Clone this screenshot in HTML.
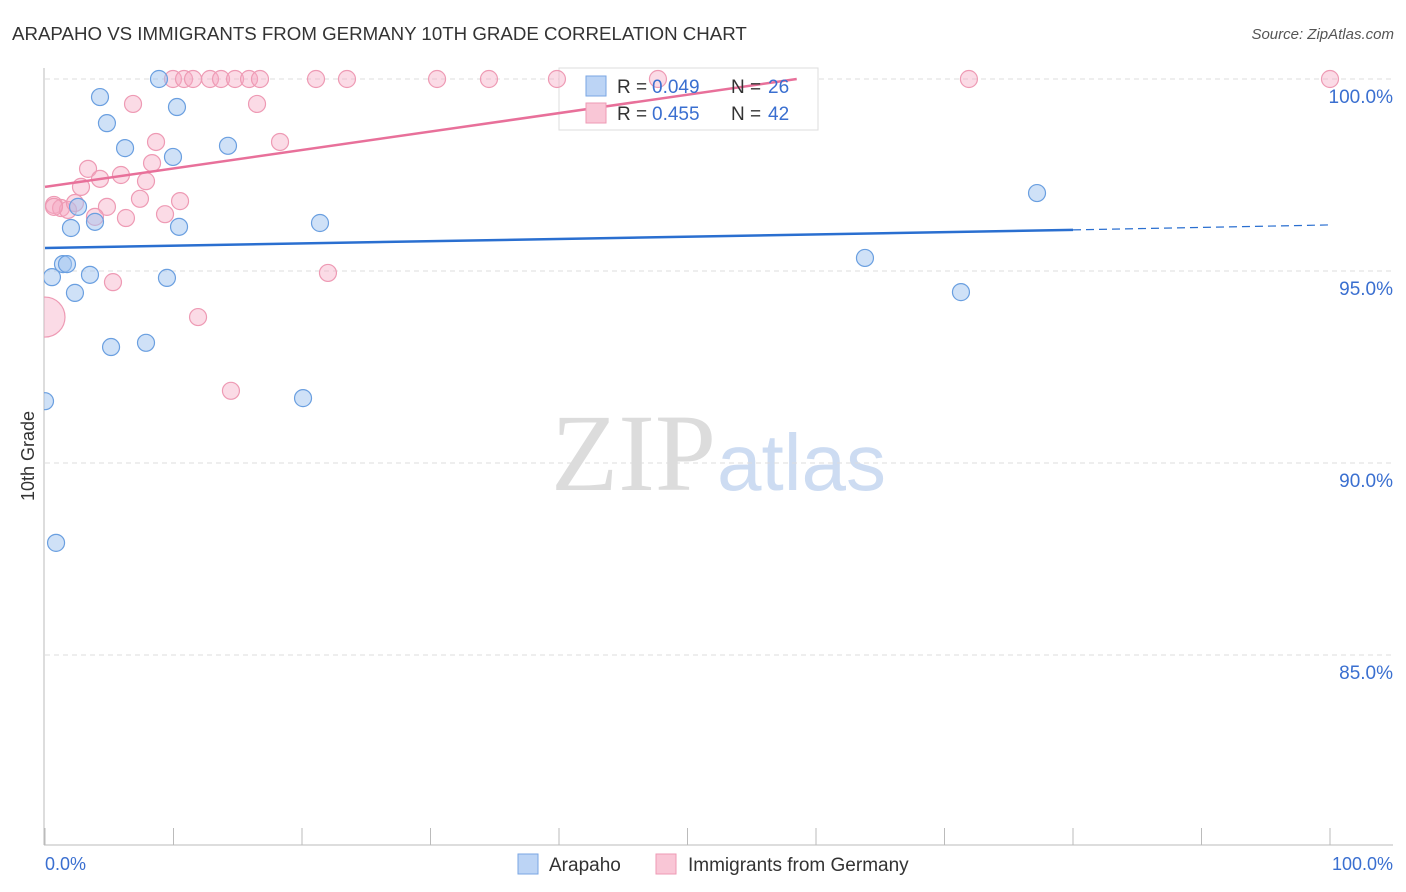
<!DOCTYPE html>
<html><head><meta charset="utf-8"><style>
body{margin:0;background:#fff;font-family:"Liberation Sans",sans-serif;}
svg{display:block}
</style></head><body>
<svg id="chart" width="1406" height="892">
<defs><clipPath id="plotclip"><rect x="44" y="50" width="1362" height="800"/></clipPath></defs>
<text x="12" y="40" font-size="18.7" fill="#333">ARAPAHO VS IMMIGRANTS FROM GERMANY 10TH GRADE CORRELATION CHART</text>
<text x="1394" y="39" font-size="15" fill="#555" font-style="italic" text-anchor="end">Source: ZipAtlas.com</text>
<text x="34" y="456" font-size="18" fill="#333" transform="rotate(-90 34 456)" text-anchor="middle">10th Grade</text>
<text x="716" y="490" font-size="110" fill="#dcdcdc" text-anchor="end" font-family="Liberation Serif,serif">ZIP</text>
<text x="717" y="490" font-size="80" fill="#cddcf2">atlas</text>
<g id="grid"></g>
<rect x="559" y="68" width="259" height="62" fill="#fff" stroke="#ddd"/>
<g id="marks" clip-path="url(#plotclip)"></g>
<rect x="586" y="76" width="20" height="20" fill="#bcd4f5" stroke="#7aa6e3"/>
<rect x="586" y="103" width="20" height="20" fill="#f9c6d6" stroke="#ee9ab4"/>
<g font-size="19" fill="#333">
<text x="617" y="93">R =</text><text x="652" y="93" fill="#3a6fd0">0.049</text><text x="731" y="93">N =</text><text x="768" y="93" fill="#3a6fd0">26</text>
<text x="617" y="120">R =</text><text x="652" y="120" fill="#3a6fd0">0.455</text><text x="731" y="120">N =</text><text x="768" y="120" fill="#3a6fd0">42</text>
</g>
<rect x="518" y="854" width="20" height="20" fill="#bcd4f5" stroke="#7aa6e3"/>
<text x="549" y="871" font-size="19" fill="#333">Arapaho</text>
<rect x="656" y="854" width="20" height="20" fill="#f9c6d6" stroke="#ee9ab4"/>
<text x="688" y="871" font-size="19" fill="#333">Immigrants from Germany</text>
<text x="45" y="870" font-size="18" fill="#3a6fd0">0.0%</text>
<text x="1393" y="870" font-size="18" fill="#3a6fd0" text-anchor="end">100.0%</text>
</svg>
<script>
const blueX=[8.87,4.28,10.27,4.82,6.23,14.24,9.96,2.57,3.89,2.02,10.43,21.4,1.4,1.71,0.54,3.5,9.49,2.33,5.14,7.86,0.0,20.08,0.86,63.81,71.28,77.2];
const blueY=[100,99.53,99.27,98.85,98.2,98.26,97.97,96.67,96.28,96.12,96.15,96.25,95.18,95.18,94.84,94.9,94.82,94.43,93.02,93.13,91.61,91.69,87.92,95.34,94.45,97.03];
const pinkX=[9.96,10.82,11.52,12.84,13.7,14.79,15.88,16.73,21.09,23.5,30.51,34.55,39.84,47.7,71.9,100,6.85,16.5,8.64,18.29,3.35,8.33,4.28,5.91,7.86,2.8,7.39,10.51,0.7,1.25,1.79,2.33,4.82,3.89,6.3,9.34,5.29,22.02,11.91,14.47,0,0.7];
const pinkY=[100,100,100,100,100,100,100,100,100,100,100,100,100,100,100,100,99.35,99.35,98.36,98.36,97.66,97.81,97.4,97.5,97.34,97.19,96.88,96.82,96.72,96.64,96.59,96.77,96.67,96.41,96.38,96.48,94.71,94.95,93.8,91.88,93.8,96.67];
const pinkR=[8.5,8.5,8.5,8.5,8.5,8.5,8.5,8.5,8.5,8.5,8.5,8.5,8.5,8.5,8.5,8.5,8.5,8.5,8.5,8.5,8.5,8.5,8.5,8.5,8.5,8.5,8.5,8.5,8.5,8.5,8.5,8.5,8.5,8.5,8.5,8.5,8.5,8.5,8.5,8.5,20,8.5];
const blueTrend=[[0,95.6],[80,96.07],[100,96.2]];
const pinkTrend=[[0,97.19],[58.5,100]];
const yTicks=[100,95,90,85];
const yTickLabels=["100.0%","95.0%","90.0%","85.0%"];
const xTicks=[0,10,20,30,40,50,60,70,80,90,100];
const NS="http://www.w3.org/2000/svg";
const sx=v=>45+v*12.85, sy=v=>79+(100-v)*38.4;
function mk(t,a,p){const e=document.createElementNS(NS,t);for(const k in a)e.setAttribute(k,a[k]);p.appendChild(e);return e;}
const g=document.getElementById('grid'),m=document.getElementById('marks');
yTicks.forEach((v,i)=>{
 const l=mk('line',{x1:45,x2:1393,y1:sy(v),y2:sy(v),stroke:'#ddd','stroke-dasharray':'5,4'},g);
 
 
 const t=mk('text',{x:1393,y:sy(v)+24,'font-size':19,fill:'#3a6fd0','text-anchor':'end'},g);
 t.textContent=yTickLabels[i];
 
 
});
const ax=mk('line',{x1:44,x2:44,y1:68,y2:845,stroke:'#bbb'},g);


const bx=mk('line',{x1:44,x2:1393,y1:845,y2:845,stroke:'#bbb'},g);


xTicks.forEach(v=>{
 const l=mk('line',{x1:sx(v),x2:sx(v),y1:828,y2:845,stroke:'#bbb'},g);
 
 
});
pinkX.forEach((x,i)=>{
 const c=mk('circle',{cx:sx(x),cy:sy(pinkY[i]),r:pinkR[i],fill:'rgba(245,170,195,0.42)',stroke:'#ee9ab4','stroke-width':1.2},m);
 
 
});
blueX.forEach((x,i)=>{
 const c=mk('circle',{cx:sx(x),cy:sy(blueY[i]),r:8.5,fill:'rgba(160,196,240,0.5)',stroke:'#6a9fe0','stroke-width':1.2},m);
 
 
});
const bt=mk('line',{x1:sx(blueTrend[0][0]),y1:sy(blueTrend[0][1]),x2:sx(blueTrend[1][0]),y2:sy(blueTrend[1][1]),stroke:'#2a6fd0','stroke-width':2.5},m);


const bd=mk('line',{x1:sx(blueTrend[1][0]),y1:sy(blueTrend[1][1]),x2:sx(blueTrend[2][0]),y2:sy(blueTrend[2][1]),stroke:'#2a6fd0','stroke-width':1.2,'stroke-dasharray':'8,5'},m);


const pt=mk('line',{x1:sx(pinkTrend[0][0]),y1:sy(pinkTrend[0][1]),x2:sx(pinkTrend[1][0]),y2:sy(pinkTrend[1][1]),stroke:'#e8709a','stroke-width':2.5},m);


</script>
</body></html>
